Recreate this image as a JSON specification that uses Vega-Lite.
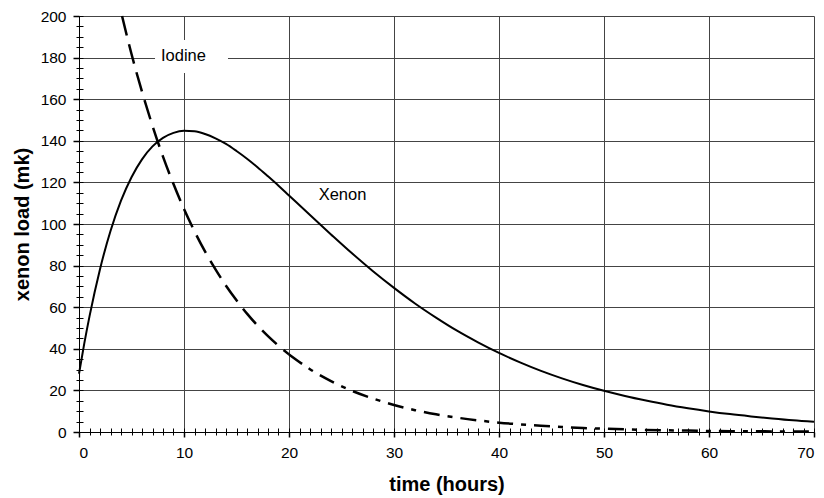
{
  "$schema": "https://vega.github.io/schema/vega-lite/v6.json",
  "width": 735,
  "height": 416,
  "autosize": {"type": "none"},
  "padding": {"left": 79, "top": 16, "right": 10, "bottom": 66},
  "background": "white",
  "config": {
    "font": "Liberation Sans",
    "view": {"stroke": null},
    "axis": {"labelColor": "black", "titleColor": "black", "domainColor": "black", "tickColor": "black", "labelFont": "Liberation Sans", "titleFont": "Liberation Sans"}
  },
  "datasets": {
    "curves": [
      {"series": "Xenon", "t": 0, "v": 28},
      {"series": "Xenon", "t": 0.5, "v": 42.5},
      {"series": "Xenon", "t": 1, "v": 55.6},
      {"series": "Xenon", "t": 2, "v": 78.3},
      {"series": "Xenon", "t": 3, "v": 96.6},
      {"series": "Xenon", "t": 4, "v": 111.2},
      {"series": "Xenon", "t": 5, "v": 122.5},
      {"series": "Xenon", "t": 6, "v": 131.1},
      {"series": "Xenon", "t": 7, "v": 137.3},
      {"series": "Xenon", "t": 8, "v": 141.4},
      {"series": "Xenon", "t": 9, "v": 143.8},
      {"series": "Xenon", "t": 10, "v": 144.8},
      {"series": "Xenon", "t": 11, "v": 144.6},
      {"series": "Xenon", "t": 12, "v": 143.3},
      {"series": "Xenon", "t": 13, "v": 141.2},
      {"series": "Xenon", "t": 14, "v": 138.5},
      {"series": "Xenon", "t": 15, "v": 135.1},
      {"series": "Xenon", "t": 16, "v": 131.4},
      {"series": "Xenon", "t": 17, "v": 127.3},
      {"series": "Xenon", "t": 18, "v": 122.9},
      {"series": "Xenon", "t": 19, "v": 118.4},
      {"series": "Xenon", "t": 20, "v": 113.7},
      {"series": "Xenon", "t": 22, "v": 104.3},
      {"series": "Xenon", "t": 24, "v": 95.0},
      {"series": "Xenon", "t": 26, "v": 85.9},
      {"series": "Xenon", "t": 28, "v": 77.3},
      {"series": "Xenon", "t": 30, "v": 69.3},
      {"series": "Xenon", "t": 32, "v": 61.8},
      {"series": "Xenon", "t": 34, "v": 55.0},
      {"series": "Xenon", "t": 36, "v": 48.7},
      {"series": "Xenon", "t": 38, "v": 43.1},
      {"series": "Xenon", "t": 40, "v": 38.0},
      {"series": "Xenon", "t": 42, "v": 33.5},
      {"series": "Xenon", "t": 44, "v": 29.4},
      {"series": "Xenon", "t": 46, "v": 25.8},
      {"series": "Xenon", "t": 48, "v": 22.6},
      {"series": "Xenon", "t": 50, "v": 19.8},
      {"series": "Xenon", "t": 52, "v": 17.3},
      {"series": "Xenon", "t": 54, "v": 15.1},
      {"series": "Xenon", "t": 56, "v": 13.1},
      {"series": "Xenon", "t": 58, "v": 11.4},
      {"series": "Xenon", "t": 60, "v": 9.9},
      {"series": "Xenon", "t": 62, "v": 8.6},
      {"series": "Xenon", "t": 64, "v": 7.5},
      {"series": "Xenon", "t": 66, "v": 6.5},
      {"series": "Xenon", "t": 68, "v": 5.6},
      {"series": "Xenon", "t": 70, "v": 4.9},
      {"series": "Iodine", "part": 1, "t": 4.1, "v": 200},
      {"series": "Iodine", "part": 1, "t": 5, "v": 181.7},
      {"series": "Iodine", "part": 1, "t": 6, "v": 163.6},
      {"series": "Iodine", "part": 1, "t": 7, "v": 147.2},
      {"series": "Iodine", "part": 1, "t": 8, "v": 132.4},
      {"series": "Iodine", "part": 1, "t": 9, "v": 119.2},
      {"series": "Iodine", "part": 1, "t": 10, "v": 107.2},
      {"series": "Iodine", "part": 1, "t": 11, "v": 96.5},
      {"series": "Iodine", "part": 1, "t": 12, "v": 86.8},
      {"series": "Iodine", "part": 1, "t": 13, "v": 78.2},
      {"series": "Iodine", "part": 1, "t": 14, "v": 70.3},
      {"series": "Iodine", "part": 1, "t": 15, "v": 63.3},
      {"series": "Iodine", "part": 1, "t": 16, "v": 56.9},
      {"series": "Iodine", "part": 1, "t": 17, "v": 51.2},
      {"series": "Iodine", "part": 1, "t": 18, "v": 46.1},
      {"series": "Iodine", "part": 1, "t": 19, "v": 41.5},
      {"series": "Iodine", "part": 1, "t": 20, "v": 37.3},
      {"series": "Iodine", "part": 2, "t": 20, "v": 37.3},
      {"series": "Iodine", "part": 2, "t": 22, "v": 30.2},
      {"series": "Iodine", "part": 2, "t": 24, "v": 24.5},
      {"series": "Iodine", "part": 2, "t": 26, "v": 19.8},
      {"series": "Iodine", "part": 2, "t": 28, "v": 16.1},
      {"series": "Iodine", "part": 2, "t": 30, "v": 13.0},
      {"series": "Iodine", "part": 2, "t": 32, "v": 10.5},
      {"series": "Iodine", "part": 2, "t": 34, "v": 8.5},
      {"series": "Iodine", "part": 2, "t": 36, "v": 6.9},
      {"series": "Iodine", "part": 2, "t": 38, "v": 5.6},
      {"series": "Iodine", "part": 2, "t": 40, "v": 4.5},
      {"series": "Iodine", "part": 2, "t": 42, "v": 3.7},
      {"series": "Iodine", "part": 2, "t": 44, "v": 3.0},
      {"series": "Iodine", "part": 2, "t": 46, "v": 2.4},
      {"series": "Iodine", "part": 2, "t": 48, "v": 1.9},
      {"series": "Iodine", "part": 2, "t": 50, "v": 1.6},
      {"series": "Iodine", "part": 2, "t": 52, "v": 1.3},
      {"series": "Iodine", "part": 2, "t": 54, "v": 1.0},
      {"series": "Iodine", "part": 2, "t": 56, "v": 0.8},
      {"series": "Iodine", "part": 2, "t": 58, "v": 0.7},
      {"series": "Iodine", "part": 2, "t": 60, "v": 0.5},
      {"series": "Iodine", "part": 2, "t": 62, "v": 0.4},
      {"series": "Iodine", "part": 2, "t": 64, "v": 0.36},
      {"series": "Iodine", "part": 2, "t": 66, "v": 0.29},
      {"series": "Iodine", "part": 2, "t": 68, "v": 0.24},
      {"series": "Iodine", "part": 2, "t": 70, "v": 0.19}
    ],
    "labels": [
      {"label": "Iodine", "t": 9.95, "v": 180.8},
      {"label": "Xenon", "t": 25.1, "v": 114}
    ],
    "box": [
      {"t": 7.24, "t2": 14.19, "v": 172.6, "v2": 188.5}
    ]
  },
  "layer": [
    {
      "data": {"name": "curves"},
      "transform": [{"filter": "datum.series === 'Xenon'"}],
      "mark": {"type": "line", "color": "black", "strokeWidth": 2, "interpolate": "monotone"},
      "encoding": {
        "x": {"field": "t", "type": "quantitative", "scale": {"domain": [0, 70], "nice": false},
          "axis": {"orient": "bottom", "values": [0, 10, 20, 30, 40, 50, 60, 70], "grid": true, "gridColor": "#444", "gridWidth": 1, "gridOpacity": 1, "tickSize": 5, "tickWidth": 1.5, "labelFontSize": 15.5, "labelPadding": 8, "title": "time (hours)", "titleFontSize": 20, "titleFontWeight": "bold", "titlePadding": 14, "domainWidth": 1}},
        "y": {"field": "v", "type": "quantitative", "scale": {"domain": [0, 200], "nice": false},
          "axis": {"orient": "left", "values": [0, 20, 40, 60, 80, 100, 120, 140, 160, 180, 200], "grid": true, "gridColor": "#444", "gridWidth": 1, "gridOpacity": 1, "tickSize": 6, "tickWidth": 1.5, "labelFontSize": 15.5, "labelPadding": 7, "title": "xenon load (mk)", "titleFontSize": 20, "titleFontWeight": "bold", "titlePadding": 8, "domainWidth": 1}}
      }
    },
    {
      "data": {"name": "curves"},
      "transform": [{"filter": "datum.series === 'Iodine' && datum.part === 1"}],
      "mark": {"type": "line", "color": "black", "strokeWidth": 2.5, "interpolate": "monotone", "strokeDash": [20, 9]},
      "encoding": {
        "x": {"field": "t", "type": "quantitative", "scale": {"domain": [0, 70], "nice": false},
          "axis": {"orient": "bottom", "values": [0,1,2,3,4,5,6,7,8,9,10,11,12,13,14,15,16,17,18,19,20,21,22,23,24,25,26,27,28,29,30,31,32,33,34,35,36,37,38,39,40,41,42,43,44,45,46,47,48,49,50,51,52,53,54,55,56,57,58,59,60,61,62,63,64,65,66,67,68,69,70], "grid": false, "domain": false, "labels": false, "title": null, "tickSize": 3}},
        "y": {"field": "v", "type": "quantitative", "scale": {"domain": [0, 200], "nice": false},
          "axis": {"orient": "left", "values": [0,5,10,15,20,25,30,35,40,45,50,55,60,65,70,75,80,85,90,95,100,105,110,115,120,125,130,135,140,145,150,155,160,165,170,175,180,185,190,195,200], "grid": false, "domain": false, "labels": false, "title": null, "tickSize": 3}}
      }
    },
    {
      "data": {"name": "curves"},
      "transform": [{"filter": "datum.series === 'Iodine' && datum.part === 2"}],
      "mark": {"type": "line", "color": "black", "strokeWidth": 2.5, "interpolate": "monotone", "strokeDash": [16, 8, 5, 8]},
      "encoding": {
        "x": {"field": "t", "type": "quantitative", "scale": {"domain": [0, 70], "nice": false},
          "axis": {"orient": "bottom", "values": [0,1,2,3,4,5,6,7,8,9,10,11,12,13,14,15,16,17,18,19,20,21,22,23,24,25,26,27,28,29,30,31,32,33,34,35,36,37,38,39,40,41,42,43,44,45,46,47,48,49,50,51,52,53,54,55,56,57,58,59,60,61,62,63,64,65,66,67,68,69,70], "grid": false, "domain": false, "labels": false, "title": null, "tickSize": -4}},
        "y": {"field": "v", "type": "quantitative", "scale": {"domain": [0, 200], "nice": false},
          "axis": {"orient": "left", "values": [0,5,10,15,20,25,30,35,40,45,50,55,60,65,70,75,80,85,90,95,100,105,110,115,120,125,130,135,140,145,150,155,160,165,170,175,180,185,190,195,200], "grid": false, "domain": false, "labels": false, "title": null, "tickSize": -4}}
      }
    },
    {
      "data": {"name": "box"},
      "mark": {"type": "rect", "fill": "white", "stroke": null},
      "encoding": {
        "x": {"field": "t", "type": "quantitative", "scale": {"domain": [0, 70], "nice": false}, "axis": null},
        "x2": {"field": "t2"},
        "y": {"field": "v", "type": "quantitative", "scale": {"domain": [0, 200], "nice": false}, "axis": null},
        "y2": {"field": "v2"}
      }
    },
    {
      "data": {"name": "labels"},
      "mark": {"type": "text", "fontSize": 16.5, "color": "black", "align": "center", "baseline": "middle", "font": "Liberation Sans"},
      "encoding": {
        "x": {"field": "t", "type": "quantitative", "scale": {"domain": [0, 70], "nice": false}, "axis": null},
        "y": {"field": "v", "type": "quantitative", "scale": {"domain": [0, 200], "nice": false}, "axis": null},
        "text": {"field": "label"}
      }
    }
  ],
  "resolve": {"axis": {"x": "independent", "y": "independent"}}
}
